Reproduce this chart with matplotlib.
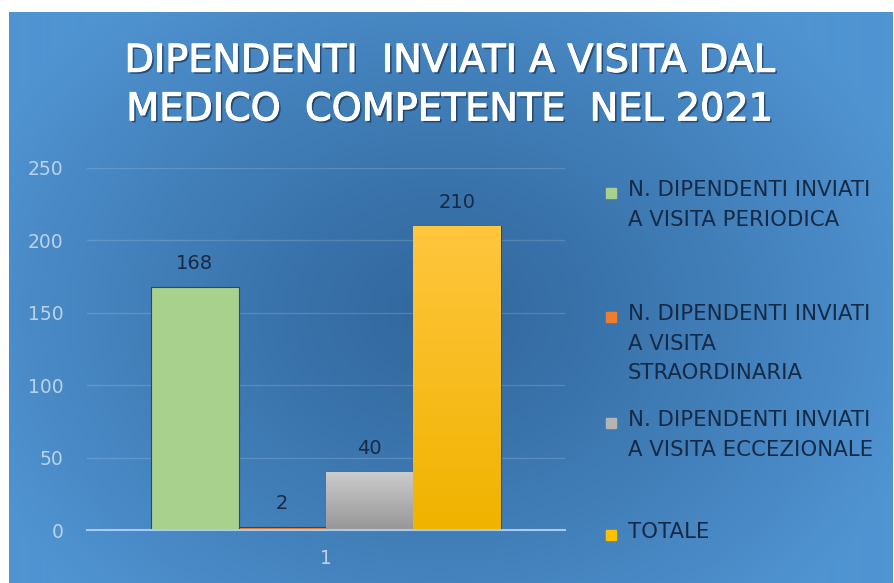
import numpy as np
import matplotlib
matplotlib.use('Agg')
import matplotlib.pyplot as plt
import matplotlib.patheffects as pe
from matplotlib.patches import Rectangle

# ── DATA ─────────────────────────────────────────────────────────────────────
title = 'DIPENDENTI  INVIATI A VISITA DAL\nMEDICO  COMPETENTE  NEL 2021'
category = ['1']
series_labels = [
    'N. DIPENDENTI INVIATI\nA VISITA PERIODICA',
    'N. DIPENDENTI INVIATI\nA VISITA\nSTRAORDINARIA',
    'N. DIPENDENTI INVIATI\nA VISITA ECCEZIONALE',
    'TOTALE',
]
series_values = [168, 2, 40, 210]
yticks = [0, 50, 100, 150, 200, 250]

colors = ['#a9d18e', '#ed7d31', '#b4b4b4', '#ffc000']
# top/bottom colours for the gradient fills (None = flat)
gradients = [None, None, ('#cbcbcb', '#979797'), ('#ffc63e', '#f0b300')]
tick_col = '#b9d3ec'
text_dark = '#162a46'

W, H = 894, 583
fig = plt.figure(figsize=(W / 100, H / 100), dpi=100, facecolor='white')

# ── BACKGROUND (blue radial gradient panel, white strip top/left) ────────────
bg = fig.add_axes([9 / W, 0, (892 - 9) / W, (H - 12) / H])
bg.set_axis_off()
yy, xx = np.mgrid[0:571, 0:883]
d = np.sqrt(((xx - 430) / 500) ** 2 + ((yy - 300) / 400) ** 2)
d = np.clip(d, 0, 1)
c_dark = np.array([50, 104, 158]) / 255
c_light = np.array([80, 148, 210]) / 255
img = c_dark[None, None, :] + (c_light - c_dark)[None, None, :] * (d ** 1.2)[..., None]
bg.imshow(img, aspect='auto', extent=[0, 1, 0, 1], origin='upper')
bg.set_xlim(0, 1)
bg.set_ylim(0, 1)

# ── TITLE ────────────────────────────────────────────────────────────────────
fig.text(450 / W, 1 - 86 / H, title, ha='center', va='center', color='white',
         fontsize=27.5, linespacing=1.45, family='DejaVu Sans',
         path_effects=[pe.withSimplePatchShadow(offset=(1.5, -1.5), shadow_rgbFace='#0d2540', alpha=0.6),
                       pe.Stroke(linewidth=0.8, foreground='white'),
                       pe.Normal()])

# ── BARS ─────────────────────────────────────────────────────────────────────
ax = fig.add_axes([87 / W, 53 / H, (565 - 87) / W, (530 - 168) / H])
ax.patch.set_alpha(0)
w = 0.183
n = len(series_values)
for i, (v, c, g) in enumerate(zip(series_values, colors, gradients)):
    x = 1 + (i - (n - 1) / 2) * w
    bar = ax.bar(x, v, width=w, color=c, edgecolor='#2a4a6a', linewidth=0.8, zorder=3)[0]
    if g is not None:
        top = np.array(matplotlib.colors.to_rgb(g[0]))
        bot = np.array(matplotlib.colors.to_rgb(g[1]))
        t = np.linspace(0, 1, 64)[:, None, None]
        grad = top[None, None, :] * (1 - t) + bot[None, None, :] * t
        im = ax.imshow(grad, extent=[x - w / 2, x + w / 2, 0, v], aspect='auto',
                       origin='upper', zorder=3.5)
        im.set_clip_path(bar)
    ax.annotate(str(v), (x, v), xytext=(0, 17), textcoords='offset points',
                ha='center', va='center', fontsize=14, color=text_dark, zorder=4)

ax.set_xlim(0.5, 1.5)
ax.set_ylim(0, 250)
ax.set_xticks([1])
ax.set_xticklabels(category)
ax.set_yticks(yticks)
ax.tick_params(axis='both', length=0, colors=tick_col, labelsize=13.5)
ax.tick_params(axis='y', pad=17)
ax.tick_params(axis='x', pad=14)
ax.grid(axis='y', color='white', alpha=0.15, linewidth=1, zorder=0)
for s in ['top', 'right', 'left']:
    ax.spines[s].set_visible(False)
ax.spines['bottom'].set_color('#a7cbec')
ax.spines['bottom'].set_linewidth(1.5)
ax.spines['bottom'].set_zorder(5)

# ── LEGEND (manual, Excel-like layout) ───────────────────────────────────────
legend_y = [193, 317, 423, 535]
for lab, c, y in zip(series_labels, colors, legend_y):
    fig.patches.append(Rectangle((606 / W, 1 - (y + 5) / H), 10 / W, 10 / H,
                                 transform=fig.transFigure, color=c, zorder=5))
    fig.text(628 / W, 1 - (y - 13) / H, lab, ha='left', va='top', fontsize=15.3,
             color=text_dark, linespacing=1.6, family='DejaVu Sans',
             transform=fig.transFigure)

fig.savefig('out.png', dpi=100, facecolor='white')
